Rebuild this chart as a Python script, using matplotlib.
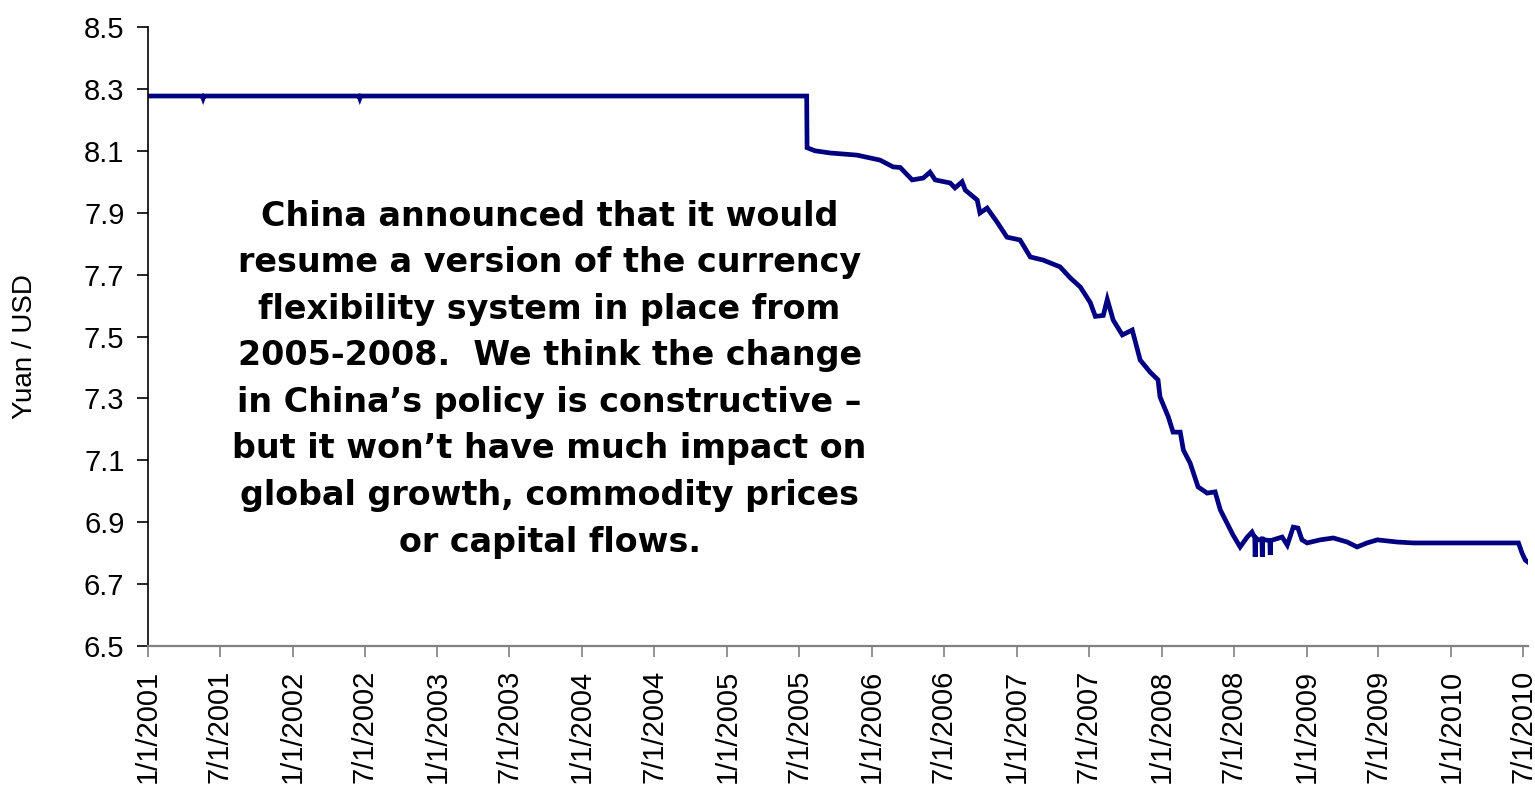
#!/usr/bin/env python3
"""Yuan / USD exchange rate 2001-2010 with policy annotation."""

import matplotlib

matplotlib.use("Agg")

import matplotlib.pyplot as plt
import pandas as pd

# values
rate_dates = [
    "2001-01-01", "2001-05-18", "2001-05-20", "2001-05-22",
    "2002-06-17", "2002-06-19", "2002-06-21",
    "2005-07-20", "2005-07-21", "2005-08-10", "2005-09-17", "2005-11-24",
    "2006-01-21", "2006-02-23", "2006-03-13", "2006-04-12", "2006-05-10",
    "2006-05-27", "2006-06-09", "2006-07-17", "2006-07-29", "2006-08-16",
    "2006-08-24", "2006-09-23", "2006-09-30", "2006-10-18", "2006-11-12",
    "2006-12-07", "2007-01-09", "2007-02-04", "2007-03-08", "2007-04-20",
    "2007-05-16", "2007-06-10", "2007-07-05", "2007-07-18", "2007-08-07",
    "2007-08-17", "2007-09-01", "2007-09-24", "2007-10-19", "2007-11-08",
    "2007-12-03", "2007-12-23", "2007-12-28", "2008-01-18", "2008-01-30",
    "2008-02-17", "2008-02-25", "2008-03-13", "2008-04-02", "2008-04-25",
    "2008-05-15", "2008-05-28", "2008-06-14", "2008-06-29", "2008-07-17",
    "2008-08-04", "2008-08-16", "2008-08-23", "2008-08-24", "2008-08-25",
    "2008-09-01", "2008-09-10", "2008-09-11", "2008-09-12", "2008-09-18",
    "2008-09-30", "2008-10-01", "2008-10-02", "2008-10-08", "2008-10-31",
    "2008-11-13", "2008-11-28", "2008-12-10", "2008-12-20", "2009-01-02",
    "2009-02-04", "2009-03-09", "2009-04-13", "2009-05-08", "2009-06-02",
    "2009-06-28", "2009-08-17", "2009-09-26", "2010-06-06", "2010-06-19",
    "2010-06-28", "2010-07-06", "2010-07-12",
]
rate_values = [
    8.277, 8.277, 8.270, 8.277,
    8.277, 8.270, 8.277,
    8.277, 8.110, 8.100, 8.093, 8.086,
    8.070, 8.048, 8.046, 8.006, 8.012,
    8.031, 8.006, 7.996, 7.980, 8.000,
    7.973, 7.941, 7.899, 7.915, 7.870,
    7.821, 7.812, 7.757, 7.747, 7.725,
    7.689, 7.660, 7.610, 7.565, 7.568,
    7.620, 7.553, 7.505, 7.521, 7.424,
    7.385, 7.360, 7.305, 7.240, 7.191,
    7.191, 7.133, 7.091, 7.014, 6.994,
    6.998, 6.940, 6.897, 6.859, 6.820,
    6.852, 6.868, 6.850, 6.788, 6.850,
    6.843, 6.845, 6.788, 6.845, 6.843,
    6.840, 6.794, 6.840, 6.843, 6.852,
    6.826, 6.884, 6.881, 6.843, 6.833,
    6.843, 6.849, 6.836, 6.820, 6.833,
    6.843, 6.836, 6.833, 6.833, 6.833,
    6.800, 6.778, 6.772,
]

tick_labels = [
    "1/1/2001", "7/1/2001", "1/1/2002", "7/1/2002", "1/1/2003", "7/1/2003",
    "1/1/2004", "7/1/2004", "1/1/2005", "7/1/2005", "1/1/2006", "7/1/2006",
    "1/1/2007", "7/1/2007", "1/1/2008", "7/1/2008", "1/1/2009", "7/1/2009",
    "1/1/2010", "7/1/2010",
]
y_ticks = [6.5, 6.7, 6.9, 7.1, 7.3, 7.5, 7.7, 7.9, 8.1, 8.3, 8.5]

note = (
    "China announced that it would\n"
    "resume a version of the currency\n"
    "flexibility system in place from\n"
    "2005-2008.  We think the change\n"
    "in China\u2019s policy is constructive \u2013\n"
    "but it won\u2019t have much impact on\n"
    "global growth, commodity prices\n"
    "or capital flows."
)

plt.rcParams["font.family"] = ["Liberation Sans", "DejaVu Sans"]

fig = plt.figure(figsize=(15.35, 7.86), dpi=100)
ax = fig.add_axes([148 / 1535, 1 - 646 / 786, 1380 / 1535, 619 / 786])

x = pd.to_datetime(rate_dates)
ax.plot(x, rate_values, color="#000080", linewidth=3.4, solid_joinstyle="miter")

ax.set_ylim(6.5, 8.5)
ax.set_yticks(y_ticks)
ax.set_yticklabels([f"{v:.1f}" for v in y_ticks])
ax.set_xlim(pd.Timestamp("2001-01-01"), pd.Timestamp("2010-07-13"))
ax.set_xticks(pd.to_datetime(tick_labels, format="%m/%d/%Y"))
ax.set_xticklabels(tick_labels, rotation=90, va="top", ha="center")

ax.tick_params(axis="y", length=8, width=1.2, pad=9, labelsize=21, color="black")
ax.tick_params(axis="x", length=8, width=1.2, pad=9, labelsize=21, color="#808080")

for side in ("top", "right"):
    ax.spines[side].set_visible(False)
ax.spines["left"].set_color("black")
ax.spines["left"].set_linewidth(1.2)
ax.spines["bottom"].set_color("#808080")
ax.spines["bottom"].set_linewidth(1.6)

fig.text(25 / 1535, 1 - 347 / 786, "Yuan / USD", rotation=90,
         ha="center", va="center", fontsize=20)

ax.text(0.291, 0.431, note, transform=ax.transAxes, ha="center", va="center",
        multialignment="center", fontsize=24, fontweight="bold",
        family=["DejaVu Sans"], linespacing=1.52)

fig.savefig("out.png", dpi=100)
